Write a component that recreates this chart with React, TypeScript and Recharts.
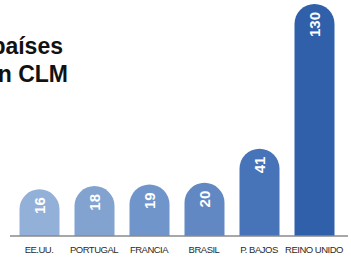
import React from 'react';
import { BarChart, Bar, XAxis, YAxis, Cell, LabelList } from 'recharts';

const categories = ['EE.UU.', 'PORTUGAL', 'FRANCIA', 'BRASIL', 'P. BAJOS', 'REINO UNIDO'];
const values = [16, 18, 19, 20, 41, 130];
const barColors = ['#93b0d8', '#82a2d0', '#7095ca', '#6288c3', '#4774b8', '#2f60a9'];
const titleLines = ['países', 'n CLM'];
const AXIS_MIN = -12.75;
const AXIS_MAX = 130;

const data = categories.map((name, i) => ({ name, value: values[i] }));

const W = 351;
const H = 258;

const ValueLabel = (props: any) => {
  const { x, y, width, index } = props;
  const cx = x + width / 2;
  const ty = y + 8;
  return (
    <text
      x={cx}
      y={ty}
      transform={`rotate(-90 ${cx} ${ty})`}
      textAnchor="end"
      dominantBaseline="central"
      fill="#ffffff"
      fontFamily="'Liberation Sans', Arial, sans-serif"
      fontWeight="bold"
      fontSize={15}
    >
      {values[index]}
    </text>
  );
};

const CategoryTick = (props: any) => {
  const { x, y, payload } = props;
  return (
    <text
      x={x}
      y={y + 8.5}
      textAnchor="middle"
      fill="#2a2a2a"
      fontFamily="'Liberation Sans', Arial, sans-serif"
      fontSize={9.5}
      letterSpacing={-0.5}
    >
      {payload.value}
    </text>
  );
};

export default function App() {
  return (
    <div style={{ position: 'absolute', left: 0, top: 0, width: W, height: H, background: '#fff' }}>
      <BarChart
        width={W}
        height={H}
        data={data}
        margin={{ top: 4, right: 3, bottom: 0, left: 10 }}
        barSize={40}
      >
        <XAxis
          dataKey="name"
          axisLine={{ stroke: '#8a8a8a', strokeWidth: 1.5 }}
          tickLine={false}
          tick={<CategoryTick />}
          interval={0}
          height={22}
          padding={{ left: 1.5, right: 6.5 }}
        />
        <YAxis hide domain={[AXIS_MIN, AXIS_MAX]} allowDataOverflow />
        <Bar
          dataKey={(d: any) => [AXIS_MIN, d.value]}
          radius={[20, 20, 0, 0]}
          isAnimationActive={false}
        >
          {data.map((d, i) => (
            <Cell key={d.name} fill={barColors[i]} />
          ))}
          <LabelList content={<ValueLabel />} />
        </Bar>
      </BarChart>
      <svg
        width={W}
        height={H}
        style={{ position: 'absolute', left: 0, top: 0, pointerEvents: 'none' }}
      >
        <text x={63} y={54} textAnchor="end" fontFamily="'Liberation Sans', Arial, sans-serif" fontWeight="bold" fontSize={23} fill="#111">
          {titleLines[0]}
        </text>
        <text x={68} y={82} textAnchor="end" fontFamily="'Liberation Sans', Arial, sans-serif" fontWeight="bold" fontSize={23} fill="#111">
          {titleLines[1]}
        </text>
      </svg>
    </div>
  );
}
